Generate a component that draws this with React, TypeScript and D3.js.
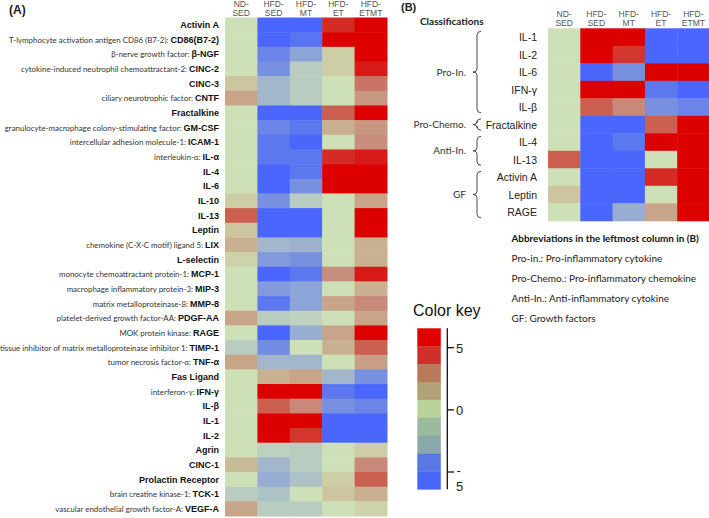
import React from 'react';
import * as d3 from 'd3';

const groupLines = [['ND-', 'SED'], ['HFD-', 'SED'], ['HFD-', 'MT'], ['HFD-', 'ET'], ['HFD-', 'ETMT']];
const groups = ['ND-SED', 'HFD-SED', 'HFD-MT', 'HFD-ET', 'HFD-ETMT'];

const markersA = ['Activin A', 'CD86(B7-2)', 'β-NGF', 'CINC-2', 'CINC-3', 'CNTF', 'Fractalkine', 'GM-CSF', 'ICAM-1', 'IL-α', 'IL-4', 'IL-6', 'IL-10', 'IL-13', 'Leptin', 'LIX', 'L-selectin', 'MCP-1', 'MIP-3', 'MMP-8', 'PDGF-AA', 'RAGE', 'TIMP-1', 'TNF-α', 'Fas Ligand', 'IFN-γ', 'IL-β', 'IL-1', 'IL-2', 'Agrin', 'CINC-1', 'Prolactin Receptor', 'TCK-1', 'VEGF-A'];

const descA = ['', 'T-lymphocyte activation antigen CD86 (B7-2): ', 'β-nerve growth factor: ', 'cytokine-induced neutrophil chemoattractant-2: ', '', 'ciliary neurotrophic factor: ', '', 'granulocyte-macrophage colony-stimulating factor: ', 'intercellular adhesion molecule-1: ', 'interleukin-α: ', '', '', '', '', '', 'chemokine (C-X-C motif) ligand 5: ', '', 'monocyte chemoattractant protein-1: ', 'macrophage inflammatory protein-3: ', 'matrix metalloproteinase-8: ', 'platelet-derived growth factor-AA: ', 'MOK protein kinase: ', 'tissue inhibitor of matrix metalloproteinase inhibitor 1: ', 'tumor necrosis factor-α: ', '', 'interferon-γ: ', '', '', '', '', '', '', 'brain creatine kinase-1: ', 'vascular endothelial growth factor-A: '];

// values per marker: ND-SED, HFD-SED, HFD-MT, HFD-ET, HFD-ETMT
const valuesA = [
  [0, -6, -6, 6, 6.5],
  [0, -6, -5.2, 6.5, 6.5],
  [0, -4.5, -3, 1, 6.5],
  [0, -4, -1, 1, 6.2],
  [1.5, -2, -1, 0, 4.5],
  [3, -2, -1, 0, 3.5],
  [0, -6, -6, 5, 6.5],
  [0, -4.5, -5, 2.5, 3.5],
  [0, -5, -6, 0, 3.8],
  [0, -5, -5, 6, 6.2],
  [0, -6, -5, 6.5, 6.5],
  [0, -6, -4, 6.5, 6.5],
  [1, -4, -1, 0, 3],
  [5, -6, -6, 0, 6.5],
  [1.5, -6, -6, 0, 6.5],
  [2.5, -2, -2.2, 0, 2.5],
  [0.8, -3.5, -4, 0, 2.5],
  [0, -6, -5, 3.8, 6.2],
  [0, -3.5, -3, 0, 2.5],
  [0, -5, -3, 3, 4],
  [3, -1, -0.7, 0, 3],
  [0, -6, -2.5, 3, 6.5],
  [-1, -4.2, 0, 2.5, 5],
  [3, -2, -2, 0, 3.2],
  [0, 2.5, 3, -2, -4],
  [0, 6.5, 6.5, -5, -6],
  [0, 5, 4, -4, -4.5],
  [0, 6.5, 6.5, -6, -6],
  [0, 6.5, 5.8, -6, -6],
  [0, -0.8, -1, 0, 1],
  [2, -2, -1, 0, 4],
  [0, -2.5, -1.5, 1, 5],
  [-1, -1.5, 0, 1.5, 2.5],
  [3, -1, -1, 0, 0.8],
];

const markersB = ['IL-1', 'IL-2', 'IL-6', 'IFN-γ', 'IL-β', 'Fractalkine', 'IL-4', 'IL-13', 'Activin A', 'Leptin', 'RAGE'];
const classLabels = ['Pro-In.', 'Pro-Chemo.', 'Anti-In.', 'GF'];
const classFirst = ['IL-1', 'Fractalkine', 'IL-4', 'Activin A'];
const classLast = ['IL-β', 'Fractalkine', 'IL-13', 'RAGE'];

const abbrTitle = 'Abbreviations in the leftmost column in (B)';
const abbreviations = ['Pro-in.: Pro-inflammatory cytokine', 'Pro-Chemo.: Pro-inflammatory chemokine', 'Anti-In.: Anti-inflammatory cytokine', 'GF: Growth factors'];

const keyColors = ['#e00000', '#d0302a', '#b87a5a', '#b0a274', '#b8d29a', '#9cba9e', '#88a8aa', '#5878e2', '#4868fa'];
const keyTicks = [5, 0, -5];

const colorDomain = [-6.5, -6, -5, -4, -3, -2, -1, 0, 1, 2, 3, 4, 5, 6, 6.5];
const colorRange = ['#4664ff', '#4a66fc', '#5c78ee', '#7890e0', '#8ca4d8', '#a2b6cc', '#b8cdc0', '#cee0b8', '#cdcea6', '#cabb98', '#c8a488', '#c8887a', '#cc6050', '#d42c24', '#dc0000'];

const ARIAL = 'Liberation Sans, Arial, sans-serif';
const CAL = 'Lato, sans-serif';

export default function App() {
  const color = d3.scaleLinear<string>().domain(colorDomain).range(colorRange).interpolate(d3.interpolateRgb).clamp(true);

  const xA = d3.scaleBand().domain(groups).range([225, 387]).padding(0);
  const yA = d3.scaleBand().domain(markersA).range([17.5, 516]).padding(0);

  const xB = d3.scaleBand().domain(groups).range([548, 709.5]).padding(0);
  const yB = d3.scaleBand().domain(markersB).range([28.3, 220.8]).padding(0);

  const keyY = d3.scaleBand().domain(keyColors.map((_, i) => String(i))).range([328.3, 489.3]);
  const keyScale = d3.scaleLinear().domain([5, -5]).range([347.7, 472]);

  const valueOf = (m: string, g: number) => valuesA[markersA.indexOf(m)][g];

  return (
    <svg width={709} height={518} style={{ position: 'absolute', left: 0, top: 0, background: '#fff' }}>
      {/* Panel A */}
      <text x={9} y={13.5} fontFamily={ARIAL} fontWeight="bold" fontSize={12} fill="#222">(A)</text>
      {groups.map((g, gi) => (
        <g key={g}>
          {groupLines[gi].map((t, li) => (
            <text key={li} x={xA(g)! + xA.bandwidth() / 2} y={7 + li * 9} textAnchor="middle" fontFamily={ARIAL} fontSize={8.5} fill="#555">{t}</text>
          ))}
        </g>
      ))}
      {markersA.map((m, mi) => (
        <g key={m}>
          {groups.map((g, gi) => (
            <rect key={g} x={xA(g)!} y={yA(m)!} width={xA.bandwidth() + 0.5} height={yA.bandwidth() + 0.5} fill={color(valuesA[mi][gi])} />
          ))}
          <text x={219} y={yA(m)! + yA.bandwidth() / 2 + 3.3} textAnchor="end" style={{ whiteSpace: 'pre' }}>
            {descA[mi] && <tspan fontFamily={CAL} fontSize={7.9} fill="#333">{descA[mi]}</tspan>}
            <tspan fontFamily={ARIAL} fontWeight="bold" fontSize={9} fill="#111">{m}</tspan>
          </text>
        </g>
      ))}

      {/* Panel B */}
      <text x={401} y={11} fontFamily={ARIAL} fontWeight="bold" fontSize={11} fill="#222">(B)</text>
      <text x={420} y={24.5} fontFamily={CAL} fontWeight="bold" fontSize={10} fill="#222">Classifications</text>
      {groups.map((g, gi) => (
        <g key={g}>
          {groupLines[gi].map((t, li) => (
            <text key={li} x={xB(g)! + xB.bandwidth() / 2} y={17 + li * 8.5} textAnchor="middle" fontFamily={ARIAL} fontSize={8.5} fill="#555">{t}</text>
          ))}
        </g>
      ))}
      {markersB.map((m) => (
        <g key={m}>
          {groups.map((g, gi) => (
            <rect key={g} x={xB(g)!} y={yB(m)!} width={xB.bandwidth() + 0.5} height={yB.bandwidth() + 0.5} fill={color(valueOf(m, gi))} />
          ))}
          <text x={537} y={yB(m)! + yB.bandwidth() / 2 + 4} textAnchor="end" fontFamily={ARIAL} fontSize={10.5} fill="#222">{m}</text>
        </g>
      ))}
      {classLabels.map((c, ci) => {
        const y0 = yB(classFirst[ci])! + 3;
        const y1 = yB(classLast[ci])! + yB.bandwidth() - 3;
        const ym = (y0 + y1) / 2;
        const bx = 477;
        const d = `M${bx + 4},${y0} Q${bx},${y0} ${bx},${y0 + 4} L${bx},${ym - 3} Q${bx},${ym} ${bx - 4},${ym} Q${bx},${ym} ${bx},${ym + 3} L${bx},${y1 - 4} Q${bx},${y1} ${bx + 4},${y1}`;
        return (
          <g key={c}>
            <path d={d} fill="none" stroke="#333" strokeWidth={0.9} />
            <text x={466} y={ym + 3.5} textAnchor="end" fontFamily={CAL} fontSize={10} fill="#333">{c}</text>
          </g>
        );
      })}
      <text x={511.5} y={242} fontFamily={CAL} fontWeight="bold" fontSize={9.9} fill="#111">{abbrTitle}</text>
      {abbreviations.map((a, i) => (
        <text key={a} x={511.5} y={262 + i * 20} fontFamily={CAL} fontSize={10} fill="#222">{a}</text>
      ))}

      {/* Color key */}
      <text x={413} y={316} fontFamily={ARIAL} fontSize={16} fill="#111">Color key</text>
      {keyColors.map((c, i) => (
        <rect key={i} x={417.3} y={keyY(String(i))!} width={23.5} height={keyY.bandwidth() + 0.3} fill={c} />
      ))}
      <line x1={447.3} x2={447.3} y1={328.3} y2={489.3} stroke="#111" strokeWidth={1.3} />
      {keyTicks.map((t) => (
        <g key={t}>
          <line x1={447.3} x2={454} y1={keyScale(t)} y2={keyScale(t)} stroke="#111" strokeWidth={1.3} />
          {t >= 0 ? (
            <text x={456} y={keyScale(t) + 4.8} fontFamily={ARIAL} fontSize={13} fill="#222">{t}</text>
          ) : (
            <g>
              <text x={456.5} y={keyScale(t) + 3} fontFamily={ARIAL} fontSize={13} fill="#222">-</text>
              <text x={456} y={keyScale(t) + 18.5} fontFamily={ARIAL} fontSize={13} fill="#222">{Math.abs(t)}</text>
            </g>
          )}
        </g>
      ))}
    </svg>
  );
}
